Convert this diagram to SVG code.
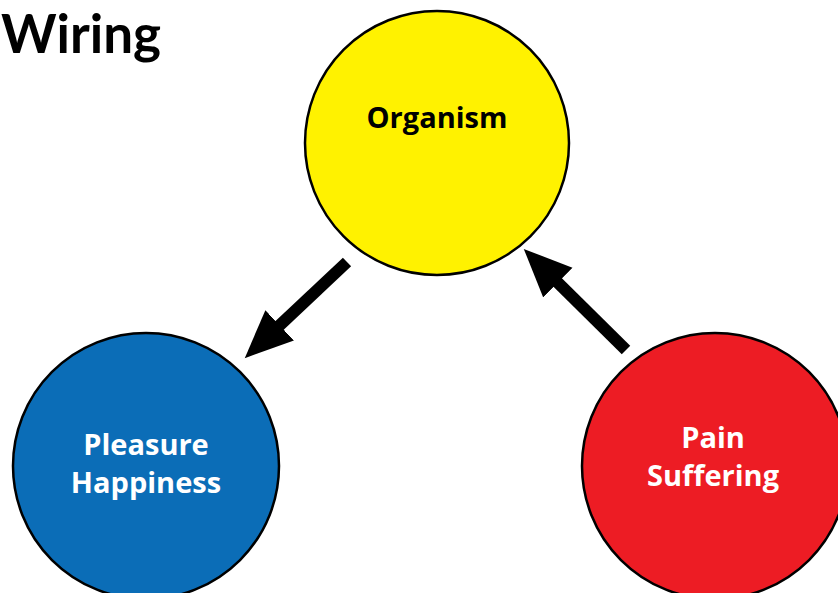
<svg xmlns="http://www.w3.org/2000/svg" width="838" height="593" viewBox="0 0 838 593">
  <defs>
    <style>
      .node { stroke: #000; stroke-width: 2.5; }
      .label { font-family: "Open Sans", "Noto Sans", "Liberation Sans", sans-serif; font-weight: 700; font-size: 29px; text-anchor: middle; }
      .title { font-family: Lato, "Liberation Sans", sans-serif; font-weight: 700; font-size: 53px; fill: #000; }
      .conn { stroke: #000; stroke-width: 12; fill: none; stroke-linecap: butt; }
    </style>
    <marker id="head" markerUnits="userSpaceOnUse" markerWidth="50" markerHeight="44" viewBox="0 0 48 42" refX="6" refY="20" orient="auto">
      <path d="M0,0 L46,20 L0,40 z" fill="#000"/>
    </marker>
  </defs>
  <rect width="838" height="593" fill="#fff"/>
  <text class="title" x="1" y="53">Wiring</text>
  <g id="organism">
    <circle class="node" cx="437" cy="143" r="132" fill="#FFF200"/>
    <text class="label" x="437" y="128" fill="#000">Organism</text>
  </g>
  <g id="pleasure">
    <circle class="node" cx="146" cy="466" r="133" fill="#0B6DB7"/>
    <text class="label" x="146" y="455" fill="#fff">Pleasure</text>
    <text class="label" x="146" y="493" fill="#fff">Happiness</text>
  </g>
  <g id="pain">
    <circle class="node" cx="715" cy="466" r="133" fill="#ED1C24"/>
    <text class="label" x="713" y="448" fill="#fff">Pain</text>
    <text class="label" x="713" y="486" fill="#fff">Suffering</text>
  </g>
  <g id="connectors">
    <line class="conn" x1="347" y1="262" x2="275.1" y2="329.6" marker-end="url(#head)"/>
    <line class="conn" x1="626" y1="350" x2="553.4" y2="278.2" marker-end="url(#head)"/>
  </g>
</svg>
